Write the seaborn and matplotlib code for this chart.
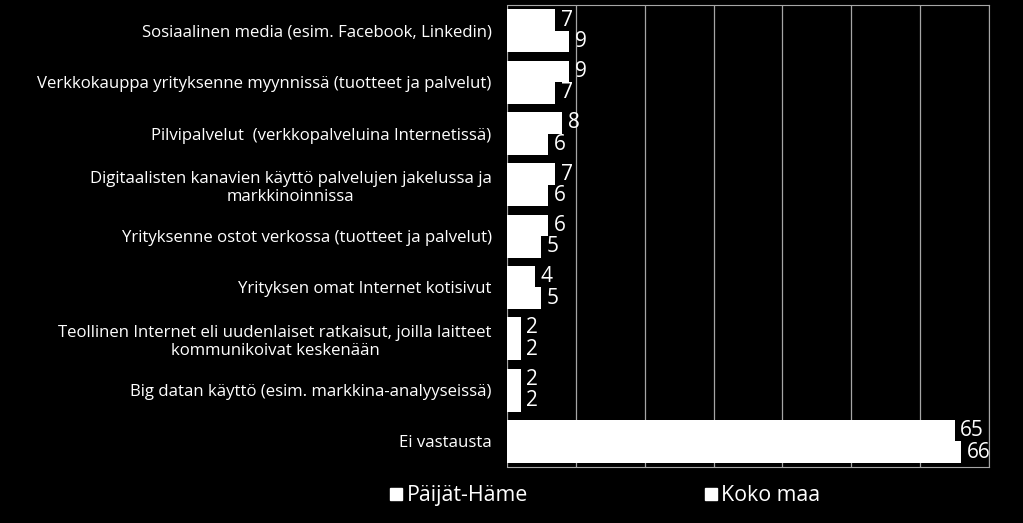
import pandas as pd
import matplotlib
matplotlib.use("Agg")
import matplotlib.pyplot as plt
import seaborn as sns
from matplotlib.lines import Line2D

categories = [
    "Sosiaalinen media (esim. Facebook, Linkedin)",
    "Verkkokauppa yrityksenne myynnissä (tuotteet ja palvelut)",
    "Pilvipalvelut  (verkkopalveluina Internetissä)",
    "Digitaalisten kanavien käyttö palvelujen jakelussa ja\nmarkkinoinnissa",
    "Yrityksenne ostot verkossa (tuotteet ja palvelut)",
    "Yrityksen omat Internet kotisivut",
    "Teollinen Internet eli uudenlaiset ratkaisut, joilla laitteet\nkommunikoivat keskenään",
    "Big datan käyttö (esim. markkina-analyyseissä)",
    "Ei vastausta",
]
series = ["Päijät-Häme", "Koko maa"]
paijat_hame = [7, 9, 8, 7, 6, 4, 2, 2, 65]
koko_maa = [9, 7, 6, 6, 5, 5, 2, 2, 66]

df = pd.DataFrame({
    "kategoria": categories * 2,
    "alue": [series[0]] * len(categories) + [series[1]] * len(categories),
    "arvo": paijat_hame + koko_maa,
})

sns.set_style("dark")
plt.rcParams["font.family"] = ["Open Sans", "DejaVu Sans"]

fig = plt.figure(figsize=(10.23, 5.23), dpi=100, facecolor="black")
ax = fig.add_axes([0.4956, 0.107, 0.4712, 0.883])
ax.set_facecolor("black")

sns.barplot(data=df, y="kategoria", x="arvo", hue="alue", orient="h",
            palette=["white", "white"], width=0.84, saturation=1,
            edgecolor="none", legend=False, ax=ax)

for cont in ax.containers:
    ax.bar_label(cont, padding=4, color="white", fontsize=15)

ax.set_xlim(0, 70)
ax.set_xticks(range(0, 71, 10))
ax.set_xticklabels([])
ax.tick_params(axis="x", length=0)
ax.tick_params(axis="y", length=0, colors="white", labelsize=12.1, pad=11)
for lab in ax.get_yticklabels():
    lab.set_multialignment("center")
ax.grid(axis="x", color="#a6a6a6", linewidth=0.9)
ax.grid(axis="y", visible=False)
ax.set_axisbelow(True)
ax.set_xlabel("")
ax.set_ylabel("")
for side in ["top", "right", "bottom"]:
    ax.spines[side].set_color("#a6a6a6")
    ax.spines[side].set_visible(True)
ax.spines["left"].set_visible(False)

handles = [Line2D([0], [0], marker="s", linestyle="none", markersize=8,
                  markerfacecolor="white", markeredgecolor="white")
           for _ in series]
leg = fig.legend(handles, series, loc="lower center", ncol=2,
                 bbox_to_anchor=(0.592, -0.005), frameon=False,
                 fontsize=15.4, handlelength=0.5, handletextpad=0.25,
                 columnspacing=8.3, labelcolor="white")

fig.savefig("out.png", dpi=100, facecolor="black")
